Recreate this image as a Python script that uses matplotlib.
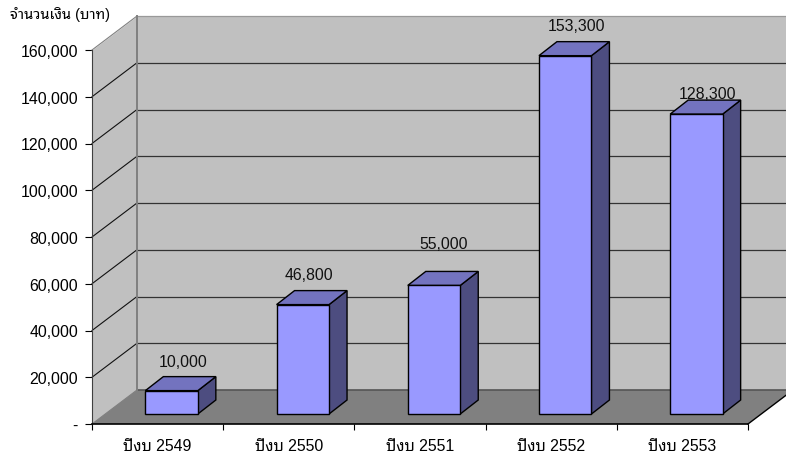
import matplotlib
matplotlib.use("Agg")
import matplotlib.pyplot as plt
from matplotlib.patches import Polygon
from matplotlib.transforms import offset_copy
from matplotlib.ticker import FuncFormatter

years = ["ปีงบ 2549", "ปีงบ 2550", "ปีงบ 2551", "ปีงบ 2552", "ปีงบ 2553"]
amounts = [10000, 46800, 55000, 153300, 128300]
y_ticks = [0, 20000, 40000, 60000, 80000, 100000, 120000, 140000, 160000]
y_title = "จำนวนเงิน (บาท)"

# label nudges in pixels, the labels sit unevenly in the original
label_dx = [12, 6, 10, 11, 11]
label_dy = [29, 30, 42, 30, 21]

plt.rcParams['font.family'] = ['Liberation Sans', 'Noto Sans Thai Looped', 'Noto Sans Thai', 'DejaVu Sans']

W, H = 786, 456
fig = plt.figure(figsize=(W / 100, H / 100), dpi=100)
ax = fig.add_axes([92 / W, (H - 425) / H, 656 / W, 374 / H])
ax.set_xlim(0, 5)
ax.set_ylim(0, 160000)
ax.patch.set_visible(False)


def shifted(dx, dy):
    return offset_copy(ax.transData, fig=fig, x=dx, y=dy, units='dots')


back = shifted(45, 34)
wall = "#c0c0c0"
floor = "#808080"
back_x = 45 / 131.2
back_y = 34 / 374 * 160000

# back wall, side wall and floor
ax.add_patch(Polygon([(0, 0), (5, 0), (5, 160000), (0, 160000)], transform=back,
                     fc=wall, ec="none", clip_on=False, zorder=1))
ax.fill_between([0, back_x], [0, back_y], [160000, 160000 + back_y],
                color=wall, lw=0, clip_on=False, zorder=1)
ax.add_patch(Polygon([(0, 0), (5, 0), (5 + back_x, back_y), (back_x, back_y)],
                     fc=floor, ec="none", clip_on=False, zorder=1))

# grid on the walls
for v in y_ticks[1:]:
    c = "#808080" if v == 160000 else "#111111"
    ax.plot([0, back_x], [v, v + back_y], color=c, lw=0.8, clip_on=False, zorder=2)
    ax.plot([0, 5], [v, v], transform=back, color="#333333" if v != 160000 else "#999999",
            lw=0.9, clip_on=False, zorder=2)
ax.plot([0, 5], [0, 0], transform=back, color="#555555", lw=1.2, clip_on=False, zorder=2)
ax.plot([0, 0], [0, 160000], transform=back, color="#808080", lw=1.4, clip_on=False, zorder=2)
ax.plot([0, back_x], [0, back_y], color="#808080", lw=0.8, clip_on=False, zorder=2)
ax.plot([5, 5 + back_x], [0, back_y], color="black", lw=1, clip_on=False, zorder=2)

# the bars
bar_w = 0.4
front = shifted(14, 10)
dx_bar = 18 / 131.2
dy_bar = 14 / 374 * 160000
for i, val in enumerate(amounts):
    x0 = i + 0.5 - bar_w / 2
    x1 = x0 + bar_w
    ax.add_patch(Polygon([(x1, 0), (x1 + dx_bar, dy_bar), (x1 + dx_bar, val + dy_bar), (x1, val)],
                         transform=front, fc="#4d4d80", ec="black", lw=1, clip_on=False, zorder=3))
    ax.add_patch(Polygon([(x0, val), (x1, val), (x1 + dx_bar, val + dy_bar), (x0 + dx_bar, val + dy_bar)],
                         transform=front, fc="#7373bf", ec="black", lw=1, clip_on=False, zorder=3))
    ax.add_patch(Polygon([(x0, 0), (x1, 0), (x1, val), (x0, val)],
                         transform=front, fc="#9999ff", ec="black", lw=1, clip_on=False, zorder=4))
    ax.text(i + 0.5, val, f"{val:,}",
            transform=shifted(14 + label_dx[i], 10 + label_dy[i]),
            ha="center", va="center", fontsize=11.4, color="#111111", zorder=5)

for s in ["top", "right"]:
    ax.spines[s].set_visible(False)
ax.spines["left"].set_color("#404040")
ax.spines["left"].set_zorder(6)
ax.spines["bottom"].set_linewidth(1.2)
ax.spines["bottom"].set_zorder(6)

ax.set_yticks(y_ticks)
ax.yaxis.set_major_formatter(FuncFormatter(lambda v, p: "-" if v == 0 else f"{int(v):,}"))
ax.tick_params(axis="y", length=5, width=0.8, pad=5, labelsize=11.4, colors="black")
ax.set_xticks(range(6))
ax.set_xticklabels([])
ax.set_xticks([i + 0.5 for i in range(5)], minor=True)
ax.set_xticklabels(years, minor=True)
ax.tick_params(axis="x", which="major", length=4.5, width=0.8)
ax.tick_params(axis="x", which="minor", length=0, pad=10, labelsize=11.4)

fig.text(10 / W, 1 - 15 / H, y_title, fontsize=10.5, ha="left", va="center", color="black")

fig.savefig("out.png", dpi=100)
